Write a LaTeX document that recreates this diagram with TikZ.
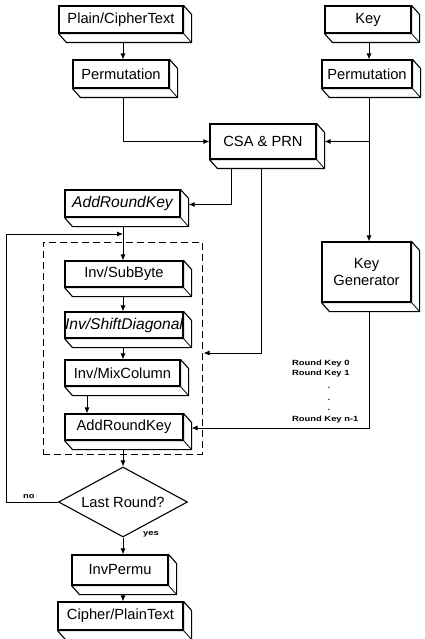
\documentclass[tikz,border=0pt]{standalone}
\usepackage{fontspec}
\setmainfont{Liberation Sans}
\usepackage{graphicx}
\usetikzlibrary{arrows.meta,calc,shapes.geometric}
\pgfdeclarelayer{bg}
\pgfsetlayers{bg,main}
\tikzset{
 blk/.style={draw, line width=1.1pt, fill=white, inner sep=0pt, align=center, font=\fontsize{14.7}{17}\selectfont},
 itblk/.style={blk, font=\fontsize{15.6}{17}\selectfont\itshape},
 face/.style={draw, line width=1.1pt, fill=white, line join=round},
 conn/.style={line width=0.9pt, -{Latex[length=6pt,width=5pt]}},
 small/.style={inner sep=0pt, anchor=west, font=\fontsize{7.5}{8}\selectfont\bfseries},
 dotlbl/.style={inner sep=0pt, font=\fontsize{8}{8}\selectfont\bfseries},
}
\newcommand\boxdepth[1]{%
 \draw[face] (#1.north east) -- ++(8,9) -- ($(#1.south east)+(8,9)$) -- ($(#1.south west)+(8,9)$) -- (#1.south west) -- (#1.south east) -- cycle;
 \draw[line width=0.8pt] (#1.south east) -- ++(8,9);}
\begin{document}
\begin{tikzpicture}[x=1pt,y=-1pt]
\useasboundingbox (0,0) rectangle (424,639);
\coordinate (col) at (123,0);
\coordinate (col2) at (369,0);
\coordinate (c87) at (87,0);
\coordinate (lf) at (6,234);
\coordinate (fb) at (123,234);
% blocks
\node[blk, minimum width=124, minimum height=27] (pt) at (121,19.5) {Plain/CipherText};
\node[blk, minimum width=96, minimum height=28] (pm1) at (121,74) {Permutation};
\node[blk, minimum width=86, minimum height=27] (key) at (368,19.5) {Key};
\node[blk, minimum width=90, minimum height=28] (pm2) at (367,74) {Permutation};
\node[blk, minimum width=106, minimum height=35] (csa) at (263,141.5) {CSA \& PRN};
\node[itblk, minimum width=115, minimum height=27] (ark1) at (122.5,203.5) {AddRoundKey};
\node[draw, line width=1pt, dash pattern=on 7pt off 4pt, minimum width=159, minimum height=212, inner sep=0pt] (loop) at (122.5,348) {};
\node[blk, minimum width=118, minimum height=26] (sub) at (124,274) {Inv/SubByte};
\node[itblk, minimum width=118, minimum height=26] (sd) at (124,325) {Inv/ShiftDiagonal};
\node[blk, minimum width=115, minimum height=26] (mc) at (122.5,373) {Inv/MixColumn};
\node[blk, minimum width=118, minimum height=26] (ark2) at (124,427) {AddRoundKey};
\node[draw, diamond, line width=1.1pt, fill=white, aspect=1.84, minimum width=129, minimum height=70, inner sep=0pt, font=\fontsize{14.7}{17}\selectfont] (dia) at (123,502) {Last Round?};
\node[blk, minimum width=96, minimum height=30] (ip) at (120,570) {InvPermu};
\node[blk, minimum width=125, minimum height=28] (cp) at (120.5,616) {Cipher/PlainText};
\node[blk, minimum width=89, minimum height=60] (kg) at (366.5,272) {Key\\Generator};
% depth faces
\boxdepth{pt}
\boxdepth{pm1}
\boxdepth{key}
\boxdepth{pm2}
\boxdepth{csa}
\boxdepth{ark1}
\boxdepth{sub}
\boxdepth{sd}
\boxdepth{mc}
\boxdepth{ark2}
\boxdepth{ip}
\boxdepth{cp}
\boxdepth{kg}
% labels
\node[small] (rk0) at (292,364) {\scalebox{1.25}[1]{Round Key 0}};
\node[small] (rk1) at (292,374) {\scalebox{1.25}[1]{Round Key 1}};
\node[dotlbl] (d1) at (329,388) {.};
\node[dotlbl] (d2) at (329,400) {.};
\node[dotlbl] (d3) at (329,410) {.};
\node[small] (rkn) at (292,420) {\scalebox{1.25}[1]{Round Key n-1}};
\node[small] (no) at (23,497) {\scalebox{1.25}[1]{no}};
\node[small] (yes) at (143,534) {\scalebox{1.25}[1]{yes}};
% connectors
\begin{pgfonlayer}{bg}
\draw[conn] (pt.south -| col) -- (pm1.north -| col);
\draw[conn] (pm1.south -| col) |- (csa.west);
\draw[conn] (key.south -| col2) -- (pm2.north -| col2);
\draw[conn] (pm2.south -| col2) -- (kg.north -| col2);
\draw[conn] (csa.east -| col2) -- ($(csa.east)+(8,0)$);
\draw[conn] ($(csa.south west)+(22,0)$) |- ($(ark1.east)+(8,1)$);
\draw[conn] ($(csa.south west)+(52,0)$) |- ($(loop.east)+(1,5)$);
\draw[conn] (ark1.south -| col) -- (sub.north -| col);
\draw[conn] (sub.south -| col) -- (sd.north -| col);
\draw[conn] (sd.south -| col) -- (mc.north -| col);
\draw[conn] (mc.south -| c87) -- (ark2.north -| c87);
\draw[conn] (ark2.south -| col) -- (dia.north);
\draw[conn] (dia.west) -| (lf) -- (fb);
\draw[conn] (kg.south -| col2) |- ($(ark2.east)+(8,1)$);
\draw[conn] (dia.south) -- (ip.north -| col);
\draw[conn] (ip.south -| col) -- (cp.north -| col);
\end{pgfonlayer}
\end{tikzpicture}
\end{document}
